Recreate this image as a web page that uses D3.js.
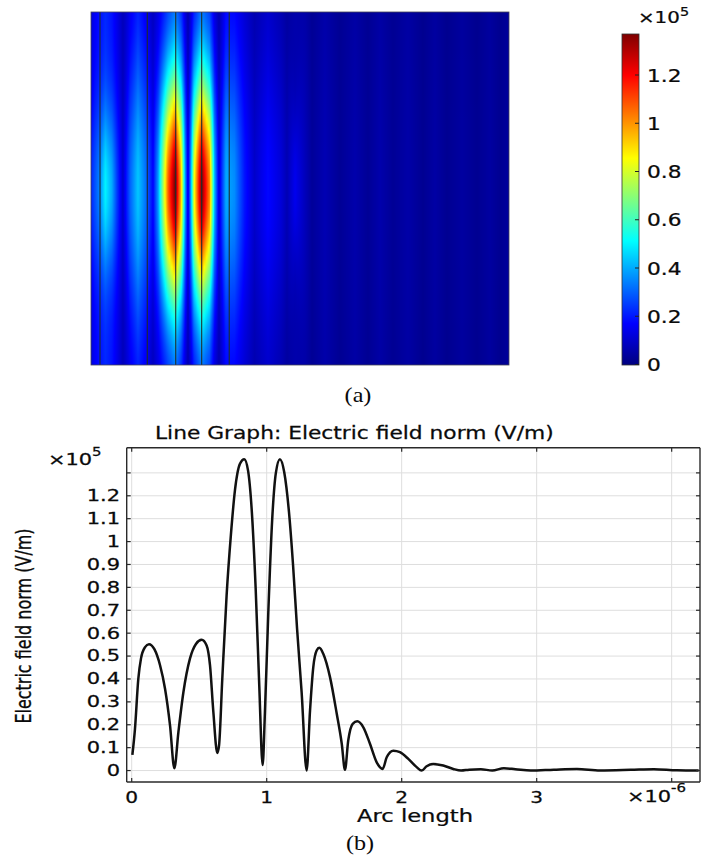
<!DOCTYPE html>
<html><head><meta charset="utf-8">
<script src="https://cdn.jsdelivr.net/npm/d3@7"></script>
<style>body{margin:0;background:#fff;} svg{display:block;}</style>
</head><body>
<svg id="fig" width="702" height="855"></svg>
<script>
// ---------- (b) line graph data ----------
const arcLength = [0.005,0.024,0.049,0.069,0.099,0.128,0.168,0.21,0.247,0.284,0.316,0.346,0.383,0.432,0.476,0.518,0.555,0.58,0.605,0.634,0.647,0.671,0.703,0.735,0.765,0.802,0.834,0.862,0.89,0.918,0.945,0.97,0.987,1.012,1.041,1.068,1.098,1.13,1.165,1.195,1.225,1.259,1.296,1.321,1.345,1.37,1.39,1.419,1.469,1.519,1.556,1.58,1.604,1.637,1.671,1.716,1.765,1.815,1.859,1.889,1.938,1.987,2.049,2.111,2.148,2.185,2.234,2.308,2.382,2.44,2.5,2.586,2.671,2.757,2.842,2.956,3.127,3.298,3.469,3.697,3.868,4.039,4.2];
const fieldNorm = [0.068,0.18,0.40,0.49,0.539,0.552,0.53,0.46,0.357,0.197,0.010,0.168,0.342,0.49,0.553,0.571,0.546,0.46,0.255,0.077,0.109,0.40,0.764,1.03,1.225,1.34,1.36,1.31,1.13,0.80,0.371,0.024,0.255,0.691,1.099,1.30,1.36,1.303,1.13,0.90,0.62,0.34,0.0,0.262,0.451,0.524,0.536,0.51,0.408,0.248,0.117,0.003,0.131,0.204,0.215,0.189,0.117,0.036,0.007,0.058,0.087,0.08,0.051,0.015,0.0,0.019,0.029,0.022,0.007,0.0,0.004,0.006,0.0,0.01,0.006,0.0,0.004,0.007,0.0,0.003,0.006,0.001,0.0];
const yTicks = [0,0.1,0.2,0.3,0.4,0.5,0.6,0.7,0.8,0.9,1.0,1.1,1.2,1.3];
const yTickLabels = ["0","0.1","0.2","0.3","0.4","0.5","0.6","0.7","0.8","0.9","1","1.1","1.2",""];
const xTicks = [0,1,2,3,4];
const xTickLabels = ["0","1","2","3",""];

// ---------- (a) surface plot data ----------
const heatU      = [0.00,0.036,0.082,0.13,0.19,0.236,0.29,0.355,0.427,0.50,0.564,0.61,0.636,0.70,0.764,0.818,0.855,0.882,0.91,0.936,1.005,1.077,1.123,1.164,1.227,1.305,1.395,1.486,1.609,1.727,1.782,1.855,1.945,2.009,2.127,2.264,2.40,2.518,2.627,2.745,2.882,3.018,3.127,3.236,3.373,3.509,3.627,3.718,3.80];
const heatCenter = [0.22,0.28,0.36,0.50,0.40,0.25,0.10,0.30,0.44,0.32,0.17,0.38,0.58,1.07,1.37,0.95,0.40,0.12,0.42,0.83,1.37,1.02,0.42,0.12,0.40,0.36,0.20,0.10,0.18,0.12,0.07,0.15,0.08,0.035,0.07,0.03,0.06,0.03,0.06,0.03,0.055,0.025,0.05,0.025,0.045,0.025,0.045,0.025,0.04];
const heatEdge   = [0.12,0.16,0.19,0.22,0.19,0.14,0.08,0.13,0.17,0.12,0.08,0.11,0.13,0.18,0.23,0.17,0.10,0.06,0.10,0.15,0.23,0.18,0.10,0.06,0.15,0.14,0.10,0.06,0.09,0.06,0.04,0.06,0.05,0.025,0.05,0.025,0.045,0.025,0.045,0.025,0.045,0.02,0.04,0.02,0.04,0.02,0.04,0.02,0.035];
const heatSpread = [1.0,1.0,0.95,0.95,0.95,1.0,1.0,1.4,1.5,1.5,1.3,1.3,1.3,1.3,1.3,1.3,1.3,1.3,1.3,1.3,1.3,1.3,1.3,1.3,1.4,1.5,1.5,1.5,1.5,1.5,1.5,0.8,1.5,2,2,2,2,2,2,2,2,2,2,2,2,2,2,2,2];
const boundaryU  = [0.082,0.512,0.77,1.006,1.257];
const cbTicks = [0,0.2,0.4,0.6,0.8,1,1.2];
const cbTickLabels = ["0","0.2","0.4","0.6","0.8","1","1.2"];
const jetStops  = [0,0.125,0.375,0.625,0.875,1];
const jetColors = ["#00007f","#0000ff","#00ffff","#ffff00","#ff0000","#7f0000"];

const svg = d3.select("#fig");
const defs = svg.append("defs");
const FONT = "DejaVu Sans, Verdana, sans-serif";

// helper for horizontally stretched text
function stext(parent, x, y, str, size, sx, anchor, extra) {
  const g = parent.append("g").attr("transform", `translate(${x},${y})`);
  const t = g.append("text").attr("transform", `scale(${sx},1)`)
    .attr("font-family", FONT).attr("font-size", size).attr("fill", "#0a0a0a")
    .attr("stroke", "#0a0a0a").attr("stroke-width", 0.25)
    .attr("text-anchor", anchor || "start").text(str);
  if (extra) extra(t);
  return g;
}

// ================= (a) =================
const vmax = 1.37;
const jet = d3.scaleLinear().domain(jetStops.map(t => t * vmax)).range(jetColors).clamp(true);
const hx = d3.scaleLinear().domain([0, 3.8]).range([91, 509]);
const hy = d3.scaleLinear().domain([-2, 2]).range([365, 12]);
const cI = d3.scaleLinear().domain(heatU).range(heatCenter).clamp(true);
const eI = d3.scaleLinear().domain(heatU).range(heatEdge).clamp(true);
const sI = d3.scaleLinear().domain(heatU).range(heatSpread).clamp(true);

const nStops = 36;
const cols = d3.range(Math.round(hx(0)), Math.round(hx(3.8)));
const heatG = svg.append("g");
cols.forEach((px, i) => {
  const u = hx.invert(px + 0.5);
  const c = cI(u), e = eI(u), s = sI(u);
  const grad = defs.append("linearGradient").attr("id", "hg" + i)
    .attr("x1", 0).attr("y1", 0).attr("x2", 0).attr("y2", 1);
  d3.range(nStops + 1).forEach(k => {
    const v = hy.invert(hy(2) + (hy(-2) - hy(2)) * k / nStops);
    const val = e + (c - e) * Math.exp(-(v / s) * (v / s));
    grad.append("stop").attr("offset", k / nStops).attr("stop-color", jet(val));
  });
  heatG.append("rect").attr("x", px).attr("y", hy(2)).attr("width", 1.02)
    .attr("height", hy(-2) - hy(2)).attr("fill", `url(#hg${i})`)
    .attr("shape-rendering", "crispEdges");
});
svg.append("g").selectAll("line").data(boundaryU).join("line")
  .attr("x1", d => hx(d)).attr("x2", d => hx(d)).attr("y1", hy(2)).attr("y2", hy(-2))
  .attr("stroke", "rgba(30,45,45,0.9)").attr("stroke-width", 1.2);
svg.append("rect").attr("x", hx(0)).attr("y", hy(2)).attr("width", hx(3.8) - hx(0))
  .attr("height", hy(-2) - hy(2)).attr("fill", "none").attr("stroke", "#445").attr("stroke-width", 0.8);

// colorbar
const cy = d3.scaleLinear().domain([0, vmax]).range([364.5, 34]);
const cbGrad = defs.append("linearGradient").attr("id", "cbg").attr("x1", 0).attr("y1", 1).attr("x2", 0).attr("y2", 0);
jetStops.forEach((t, i) => cbGrad.append("stop").attr("offset", t).attr("stop-color", jetColors[i]));
svg.append("rect").attr("x", 622).attr("y", cy(vmax)).attr("width", 17).attr("height", cy(0) - cy(vmax) + 0.5)
  .attr("fill", "url(#cbg)").attr("stroke", "#333").attr("stroke-width", 0.8);
svg.append("g").selectAll("line").data(cbTicks).join("line")
  .attr("x1", 635).attr("x2", 639).attr("y1", d => cy(d)).attr("y2", d => cy(d))
  .attr("stroke", "#222").attr("stroke-width", 1);
cbTicks.forEach((t, i) => stext(svg, 647, cy(t) + 6.5, cbTickLabels[i], 17.5, 1.24, "start"));
stext(svg, 638, 23, "×10", 16, 1.24, "start");
stext(svg, 680, 16, "5", 12, 1.2, "start");

stext(svg, 358, 402, "(a)", 21, 1.15, "middle", t => t.attr("font-family", "Liberation Serif, Times New Roman, serif").attr("stroke-width", 0));

// ================= (b) =================
const x = d3.scaleLinear().domain([-0.037, 4.215]).range([126.7, 700.7]);
const y = d3.scaleLinear().domain([-0.05, 1.41]).range([782, 447.7]);
const L = x(-0.037), R = x(4.215) - 0.7, T = y(1.41), B = y(-0.05);

const grid = svg.append("g").attr("stroke", "#dedede").attr("stroke-width", 1);
grid.selectAll(".h").data(yTicks).join("line").attr("class", "h")
  .attr("x1", L).attr("x2", R).attr("y1", d => y(d)).attr("y2", d => y(d));
grid.selectAll(".v").data(xTicks).join("line").attr("class", "v")
  .attr("x1", d => x(d)).attr("x2", d => x(d)).attr("y1", T).attr("y2", B);

const line = d3.line().x((d, i) => x(arcLength[i])).y(d => y(d)).curve(d3.curveMonotoneX);
svg.append("path").datum(fieldNorm).attr("d", line).attr("fill", "none")
  .attr("stroke", "#111").attr("stroke-width", 2.5).attr("stroke-linejoin", "round");

const frame = svg.append("g").attr("stroke", "#2a2a2a").attr("stroke-width", 1.4);
frame.append("line").attr("x1", L).attr("x2", L).attr("y1", T).attr("y2", B);
frame.append("line").attr("x1", L).attr("x2", R).attr("y1", T).attr("y2", T);
frame.append("line").attr("x1", L).attr("x2", R).attr("y1", B).attr("y2", B);
frame.append("line").attr("x1", R).attr("x2", R).attr("y1", T).attr("y2", B);
const tk = svg.append("g").attr("stroke", "#2a2a2a").attr("stroke-width", 1.2);
tk.selectAll(".yl").data(yTicks).join("line").attr("x1", L).attr("x2", L + 4).attr("y1", d => y(d)).attr("y2", d => y(d));
tk.selectAll(".yr").data(yTicks).join("line").attr("x1", R - 4).attr("x2", R).attr("y1", d => y(d)).attr("y2", d => y(d));
tk.selectAll(".xb").data(xTicks).join("line").attr("x1", d => x(d)).attr("x2", d => x(d)).attr("y1", B).attr("y2", B - 4);
tk.selectAll(".xt").data(xTicks).join("line").attr("x1", d => x(d)).attr("x2", d => x(d)).attr("y1", T).attr("y2", T + 4);

yTicks.forEach((t, i) => { if (yTickLabels[i]) stext(svg, 120, y(t) + 5.4, yTickLabels[i], 15, 1.4, "end"); });
xTicks.forEach((t, i) => { if (xTickLabels[i]) stext(svg, x(t), 803, xTickLabels[i], 15.5, 1.3, "middle"); });

stext(svg, 48, 465, "×10", 15.5, 1.35, "start");
stext(svg, 92, 456, "5", 11.5, 1.3, "start");
stext(svg, 627, 802, "×10", 15.5, 1.35, "start");
stext(svg, 671, 792, "-6", 11.5, 1.3, "start");

stext(svg, 155, 439, "Line Graph: Electric field norm (V/m)", 17, 1.28, "start");
stext(svg, 415, 822, "Arc length", 17, 1.33, "middle");
svg.append("g").attr("transform", "translate(31,626) scale(1.3,1) rotate(-90)")
  .append("text").attr("font-family", FONT).attr("font-size", 16).attr("fill", "#0a0a0a")
  .attr("stroke", "#0a0a0a").attr("stroke-width", 0.25)
  .attr("text-anchor", "middle").text("Electric field norm (V/m)");

stext(svg, 360, 850, "(b)", 21, 1.15, "middle", t => t.attr("font-family", "Liberation Serif, Times New Roman, serif").attr("stroke-width", 0));
</script>
</body></html>
